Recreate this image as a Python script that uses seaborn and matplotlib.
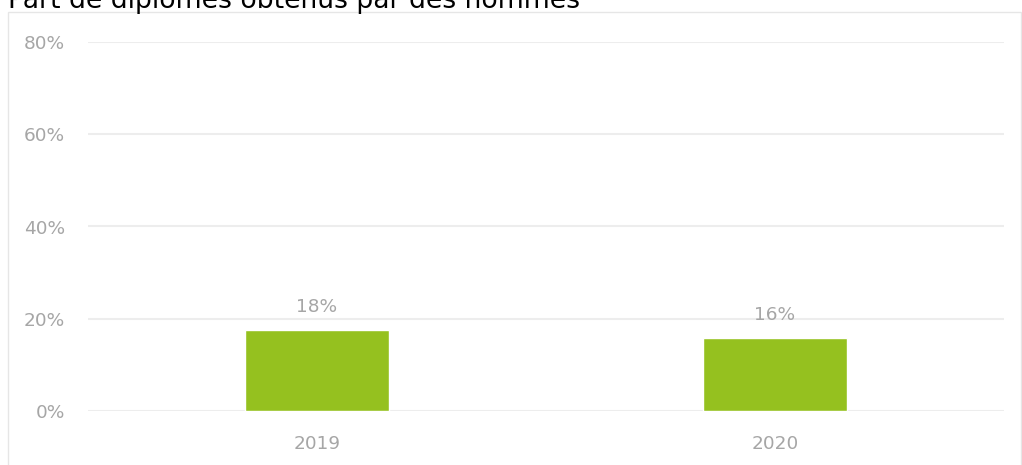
import matplotlib
matplotlib.use("Agg")
import matplotlib.pyplot as plt
import seaborn as sns
import pandas as pd
from matplotlib.patches import Rectangle

years = ["2019", "2020"]
share = [17.5, 15.8]
labels = ["18%", "16%"]
yticks = [0, 20, 40, 60, 80]

df = pd.DataFrame({"annee": years, "part": share})

sns.set_style("white")
plt.rcParams["font.family"] = ["DejaVu Sans"]

fig = plt.figure(figsize=(10.22, 4.65), dpi=100)
# light frame around the chart area
fig.patches.append(Rectangle((7.5 / 1022, -0.1), 1013 / 1022, (465 - 12) / 465 + 0.1,
                             transform=fig.transFigure, fill=False,
                             edgecolor="#E6E6E6", linewidth=1))
ax = fig.add_axes([88 / 1022, (465 - 411) / 465, 916 / 1022, 369 / 465])

sns.barplot(data=df, x="annee", y="part", color="#95C11F", width=0.314,
            saturation=1, ax=ax, zorder=3)

ax.set_ylim(0, 80)
ax.set_xlim(-0.5, 1.5)
ax.set_yticks(yticks)
ax.set_yticklabels([f"{t}%" for t in yticks])
ax.yaxis.grid(True, color="#EDEDED", linewidth=1.5, zorder=0)
ax.set_axisbelow(True)
for s in ax.spines.values():
    s.set_visible(False)
ax.tick_params(axis="both", length=0, colors="#A6A6A6", labelsize=13.3)
ax.tick_params(axis="y", pad=16.5)
ax.tick_params(axis="x", pad=17)
ax.set_xlabel("")
ax.set_ylabel("")

for i, (v, lab) in enumerate(zip(share, labels)):
    ax.annotate(lab, (i, v), xytext=(0, 10), textcoords="offset points",
                ha="center", va="bottom", color="#A6A6A6", fontsize=13.3)

fig.text(8, 465 - 8, "Part de diplômes obtenus par des hommes",
         transform=None, fontsize=19.2, color="#000000", va="baseline")

fig.savefig("out.png", dpi=100)
